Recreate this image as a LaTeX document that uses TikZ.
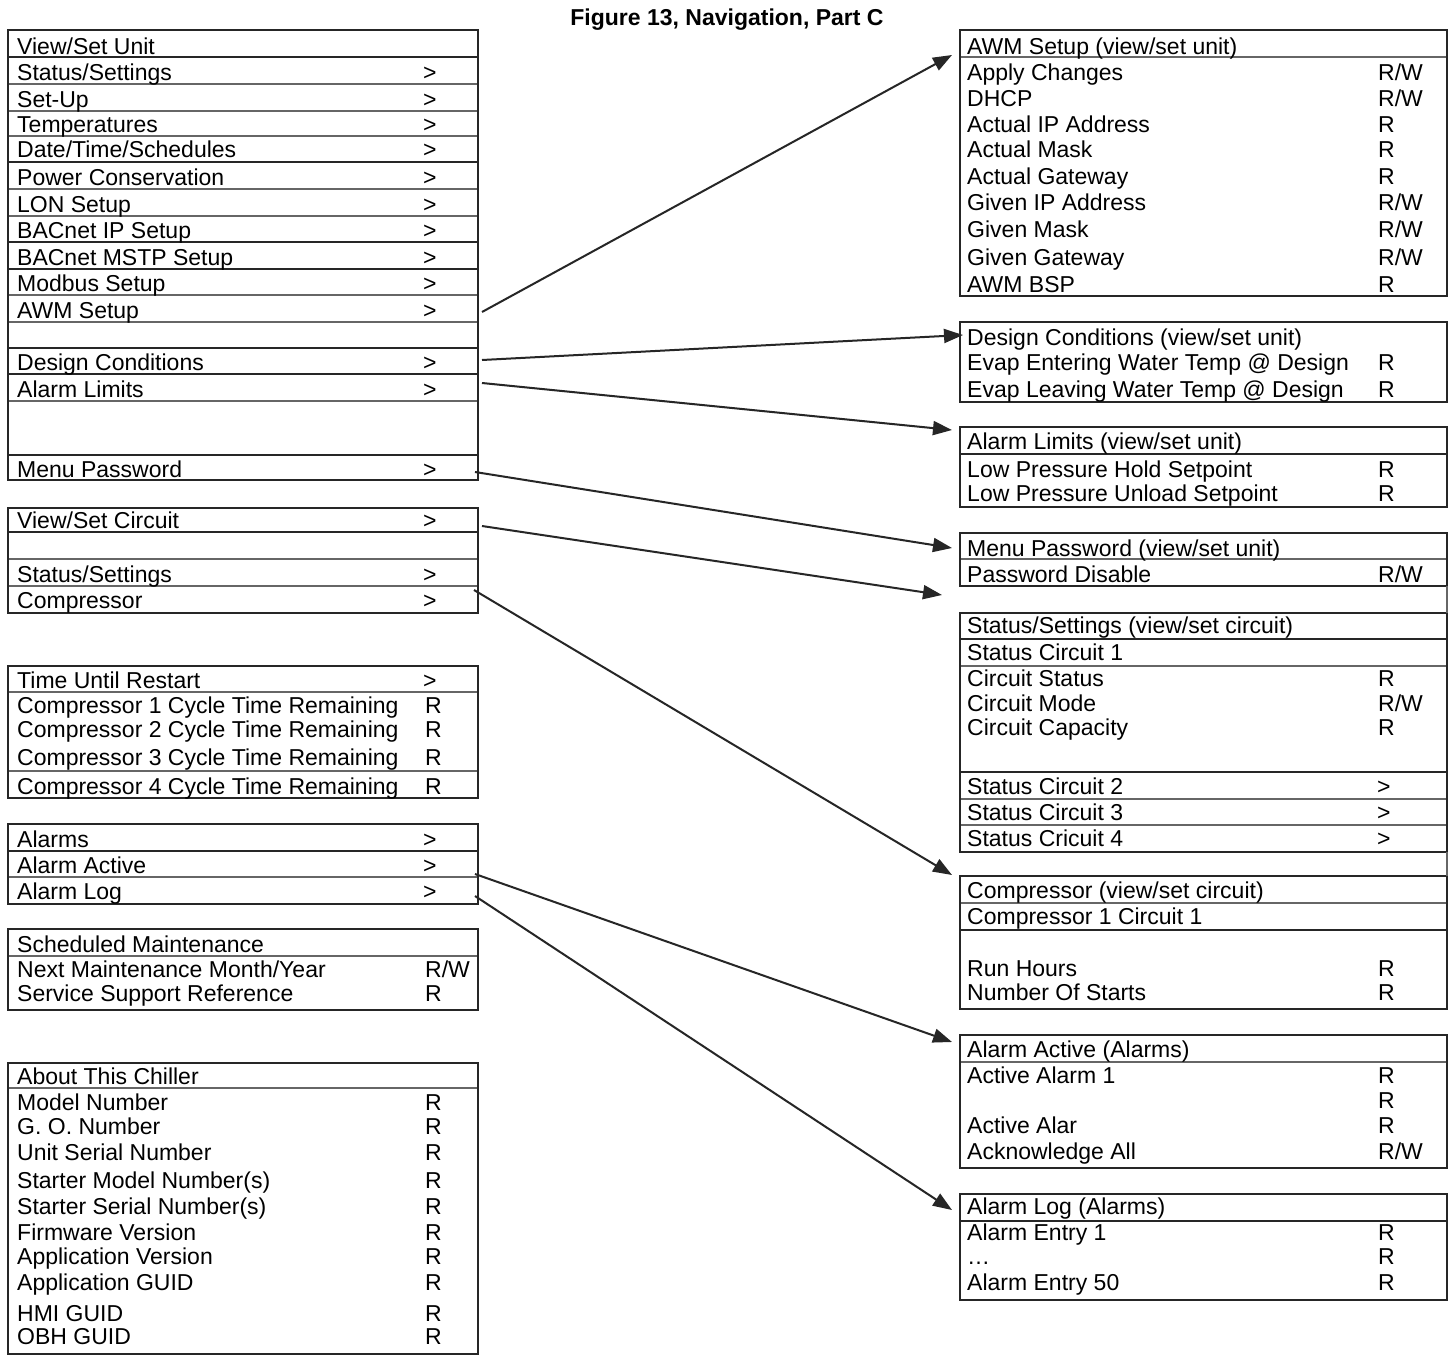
\documentclass[tikz,border=0pt]{standalone}
\usepackage{fontspec}
\setmainfont{Liberation Sans}
\usepackage{tikz}
\usetikzlibrary{arrows.meta}

\begin{document}
\begin{tikzpicture}[x=1pt, y=-1pt,
    txt/.style={anchor=base west, inner sep=0pt, font=\fontsize{23}{27}\selectfont},
    frame/.style={draw=black!85, line width=2pt},
    thickrule/.style={draw=black!85, line width=2.6pt},
    thinrule/.style={draw=black!60, line width=1.4pt},
    nav/.style={-{Triangle[length=19pt,width=14pt]}, line width=2pt, draw=black!85}]
			\path[use as bounding box, fill=white] (0,0) rectangle (1448,1357);
			\node[txt, anchor=base, font=\fontsize{23}{27}\selectfont\bfseries] (Title) at (727,25) {Figure 13, Navigation, Part C};
			% left column: rules
			\draw[thickrule] (8,57) -- (478,57);
			\draw[thinrule] (8,84) -- (478,84);
			\draw[thinrule] (8,111) -- (478,111);
			\draw[thinrule] (8,136) -- (478,136);
			\draw[thickrule] (8,162) -- (478,162);
			\draw[thinrule] (8,189) -- (478,189);
			\draw[thinrule] (8,216) -- (478,216);
			\draw[thickrule] (8,242) -- (478,242);
			\draw[thickrule] (8,269) -- (478,269);
			\draw[thinrule] (8,295) -- (478,295);
			\draw[thinrule] (8,322) -- (478,322);
			\draw[thickrule] (8,348) -- (478,348);
			\draw[thickrule] (8,374) -- (478,374);
			\draw[thinrule] (8,401) -- (478,401);
			\draw[thickrule] (8,455) -- (478,455);
			\draw[thickrule] (8,532) -- (478,532);
			\draw[thinrule] (8,559) -- (478,559);
			\draw[thinrule] (8,586) -- (478,586);
			\draw[thinrule] (8,692) -- (478,692);
			\draw[thinrule] (8,771) -- (478,771);
			\draw[thickrule] (8,851) -- (478,851);
			\draw[thinrule] (8,877) -- (478,877);
			\draw[thinrule] (8,956) -- (478,956);
			\draw[thinrule] (8,1088) -- (478,1088);
			\draw[frame] (8,30) rectangle (478,480);
			\draw[frame] (8,508) rectangle (478,613);
			\draw[frame] (8,666) rectangle (478,798);
			\draw[frame] (8,824) rectangle (478,904);
			\draw[frame] (8,929) rectangle (478,1010);
			\draw[frame] (8,1063) rectangle (478,1354);
			% right column: rules
			\draw[thinrule] (960,57) -- (1447,57);
			\draw[thickrule] (960,454) -- (1447,454);
			\draw[thinrule] (960,559) -- (1447,559);
			\draw[thickrule] (960,639) -- (1447,639);
			\draw[thinrule] (960,666) -- (1447,666);
			\draw[thickrule] (960,772) -- (1447,772);
			\draw[thinrule] (960,799) -- (1447,799);
			\draw[thinrule] (960,825) -- (1447,825);
			\draw[thinrule] (960,903) -- (1447,903);
			\draw[thickrule] (960,930) -- (1447,930);
			\draw[thinrule] (960,1062) -- (1447,1062);
			\draw[thickrule] (960,1221) -- (1447,1221);
			\draw[frame] (960,30) rectangle (1447,296);
			\draw[frame] (960,322) rectangle (1447,402);
			\draw[frame] (960,427) rectangle (1447,507);
			\draw[frame] (960,533) rectangle (1447,586);
			\draw[frame] (960,613) rectangle (1447,852);
			\draw[frame] (960,876) rectangle (1447,1009);
			\draw[frame] (960,1035) rectangle (1447,1168);
			\draw[frame] (960,1194) rectangle (1447,1300);
			\draw[thinrule] (1447,586) -- (1447,613);
			\draw[thinrule] (1447,852) -- (1447,876);
			% view/set unit
			\node[txt] (ViewSetUnit) at (17,54) {View/Set Unit};
			\node[txt] (UnitStatus) at (17,80) {Status/Settings};
			\node[txt] (UnitStatusGo) at (423,80) {>};
			\node[txt] (SetUp) at (17,107) {Set-Up};
			\node[txt] (SetUpGo) at (423,107) {>};
			\node[txt] (Temperatures) at (17,132) {Temperatures};
			\node[txt] (TemperaturesGo) at (423,132) {>};
			\node[txt] (Schedules) at (17,157) {Date/Time/Schedules};
			\node[txt] (SchedulesGo) at (423,157) {>};
			\node[txt] (PowerCons) at (17,185) {Power Conservation};
			\node[txt] (PowerConsGo) at (423,185) {>};
			\node[txt] (LON) at (17,212) {LON Setup};
			\node[txt] (LONGo) at (423,212) {>};
			\node[txt] (BACnetIP) at (17,238) {BACnet IP Setup};
			\node[txt] (BACnetIPGo) at (423,238) {>};
			\node[txt] (BACnetMSTP) at (17,265) {BACnet MSTP Setup};
			\node[txt] (BACnetMSTPGo) at (423,265) {>};
			\node[txt] (Modbus) at (17,291) {Modbus Setup};
			\node[txt] (ModbusGo) at (423,291) {>};
			\node[txt] (AWMSetup) at (17,318) {AWM Setup};
			\node[txt] (AWMSetupGo) at (423,318) {>};
			\node[txt] (Design) at (17,370) {Design Conditions};
			\node[txt] (DesignGo) at (423,370) {>};
			\node[txt] (AlarmLimits) at (17,397) {Alarm Limits};
			\node[txt] (AlarmLimitsGo) at (423,397) {>};
			\node[txt] (MenuPassword) at (17,477) {Menu Password};
			\node[txt] (MenuPasswordGo) at (423,477) {>};
			% view/set circuit
			\node[txt] (ViewSetCircuit) at (17,528) {View/Set Circuit};
			\node[txt] (ViewSetCircuitGo) at (423,528) {>};
			\node[txt] (CircuitStatus) at (17,582) {Status/Settings};
			\node[txt] (CircuitStatusGo) at (423,582) {>};
			\node[txt] (Compressor) at (17,608) {Compressor};
			\node[txt] (CompressorGo) at (423,608) {>};
			% restart
			\node[txt] (Restart) at (17,688) {Time Until Restart};
			\node[txt] (RestartGo) at (423,688) {>};
			\node[txt] (CycleA) at (17,713) {Compressor 1 Cycle Time Remaining};
			\node[txt] (CycleAR) at (425,713) {R};
			\node[txt] (CycleB) at (17,737) {Compressor 2 Cycle Time Remaining};
			\node[txt] (CycleBR) at (425,737) {R};
			\node[txt] (CycleC) at (17,765) {Compressor 3 Cycle Time Remaining};
			\node[txt] (CycleCR) at (425,765) {R};
			\node[txt] (CycleD) at (17,794) {Compressor 4 Cycle Time Remaining};
			\node[txt] (CycleDR) at (425,794) {R};
			% alarms
			\node[txt] (Alarms) at (17,847) {Alarms};
			\node[txt] (AlarmsGo) at (423,847) {>};
			\node[txt] (AlarmActive) at (17,873) {Alarm Active};
			\node[txt] (AlarmActiveGo) at (423,873) {>};
			\node[txt] (AlarmLog) at (17,899) {Alarm Log};
			\node[txt] (AlarmLogGo) at (423,899) {>};
			% maintenance
			\node[txt] (Maintenance) at (17,952) {Scheduled Maintenance};
			\node[txt] (NextMaint) at (17,977) {Next Maintenance Month/Year};
			\node[txt] (NextMaintRW) at (425,977) {R/W};
			\node[txt] (Service) at (17,1001) {Service Support Reference};
			\node[txt] (ServiceR) at (425,1001) {R};
			% about
			\node[txt] (About) at (17,1084) {About This Chiller};
			\node[txt] (ModelNo) at (17,1110) {Model Number};
			\node[txt] (ModelNoR) at (425,1110) {R};
			\node[txt] (GONo) at (17,1134) {G. O. Number};
			\node[txt] (GONoR) at (425,1134) {R};
			\node[txt] (UnitSerial) at (17,1160) {Unit Serial Number};
			\node[txt] (UnitSerialR) at (425,1160) {R};
			\node[txt] (StarterModel) at (17,1188) {Starter Model Number(s)};
			\node[txt] (StarterModelR) at (425,1188) {R};
			\node[txt] (StarterSerial) at (17,1214) {Starter Serial Number(s)};
			\node[txt] (StarterSerialR) at (425,1214) {R};
			\node[txt] (Firmware) at (17,1240) {Firmware Version};
			\node[txt] (FirmwareR) at (425,1240) {R};
			\node[txt] (AppVersion) at (17,1264) {Application Version};
			\node[txt] (AppVersionR) at (425,1264) {R};
			\node[txt] (AppGUID) at (17,1290) {Application GUID};
			\node[txt] (AppGUIDR) at (425,1290) {R};
			\node[txt] (HMIGUID) at (17,1321) {HMI GUID};
			\node[txt] (HMIGUIDR) at (425,1321) {R};
			\node[txt] (OBHGUID) at (17,1344) {OBH GUID};
			\node[txt] (OBHGUIDR) at (425,1344) {R};
			% AWM setup
			\node[txt] (AWMHead) at (967,54) {AWM Setup (view/set unit)};
			\node[txt] (ApplyChanges) at (967,80) {Apply Changes};
			\node[txt] (ApplyChangesRW) at (1378,80) {R/W};
			\node[txt] (DHCP) at (967,106) {DHCP};
			\node[txt] (DHCPRW) at (1378,106) {R/W};
			\node[txt] (ActualIP) at (967,132) {Actual IP Address};
			\node[txt] (ActualIPR) at (1378,132) {R};
			\node[txt] (ActualMask) at (967,157) {Actual Mask};
			\node[txt] (ActualMaskR) at (1378,157) {R};
			\node[txt] (ActualGateway) at (967,184) {Actual Gateway};
			\node[txt] (ActualGatewayR) at (1378,184) {R};
			\node[txt] (GivenIP) at (967,210) {Given IP Address};
			\node[txt] (GivenIPRW) at (1378,210) {R/W};
			\node[txt] (GivenMask) at (967,237) {Given Mask};
			\node[txt] (GivenMaskRW) at (1378,237) {R/W};
			\node[txt] (GivenGateway) at (967,265) {Given Gateway};
			\node[txt] (GivenGatewayRW) at (1378,265) {R/W};
			\node[txt] (AWMBSP) at (967,292) {AWM BSP};
			\node[txt] (AWMBSPR) at (1378,292) {R};
			% design conditions
			\node[txt] (DesignHead) at (967,345) {Design Conditions (view/set unit)};
			\node[txt] (EvapEnter) at (967,370) {Evap Entering Water Temp @ Design};
			\node[txt] (EvapEnterR) at (1378,370) {R};
			\node[txt] (EvapLeave) at (967,397) {Evap Leaving Water Temp @ Design};
			\node[txt] (EvapLeaveR) at (1378,397) {R};
			% alarm limits
			\node[txt] (AlarmLimitsHead) at (967,449) {Alarm Limits (view/set unit)};
			\node[txt] (LPHold) at (967,477) {Low Pressure Hold Setpoint};
			\node[txt] (LPHoldR) at (1378,477) {R};
			\node[txt] (LPUnload) at (967,501) {Low Pressure Unload Setpoint};
			\node[txt] (LPUnloadR) at (1378,501) {R};
			% menu password
			\node[txt] (MenuPasswordHead) at (967,556) {Menu Password (view/set unit)};
			\node[txt] (PwDisable) at (967,582) {Password Disable};
			\node[txt] (PwDisableRW) at (1378,582) {R/W};
			% status/settings
			\node[txt] (CircuitStatusHead) at (967,633) {Status/Settings (view/set circuit)};
			\node[txt] (CircuitOne) at (967,660) {Status Circuit 1};
			\node[txt] (CircStatus) at (967,686) {Circuit Status};
			\node[txt] (CircStatusR) at (1378,686) {R};
			\node[txt] (CircMode) at (967,711) {Circuit Mode};
			\node[txt] (CircModeRW) at (1378,711) {R/W};
			\node[txt] (CircCapacity) at (967,735) {Circuit Capacity};
			\node[txt] (CircCapacityR) at (1378,735) {R};
			\node[txt] (CircuitTwo) at (967,794) {Status Circuit 2};
			\node[txt] (CircuitTwoGo) at (1377,794) {>};
			\node[txt] (CircuitThree) at (967,820) {Status Circuit 3};
			\node[txt] (CircuitThreeGo) at (1377,820) {>};
			\node[txt] (CircuitFour) at (967,846) {Status Cricuit 4};
			\node[txt] (CircuitFourGo) at (1377,846) {>};
			% compressor
			\node[txt] (CompressorHead) at (967,898) {Compressor (view/set circuit)};
			\node[txt] (CompOne) at (967,924) {Compressor 1 Circuit 1};
			\node[txt] (RunHours) at (967,976) {Run Hours};
			\node[txt] (RunHoursR) at (1378,976) {R};
			\node[txt] (Starts) at (967,1000) {Number Of Starts};
			\node[txt] (StartsR) at (1378,1000) {R};
			% alarm active
			\node[txt] (AlarmActiveHead) at (967,1057) {Alarm Active (Alarms)};
			\node[txt] (ActiveOne) at (967,1083) {Active Alarm 1};
			\node[txt] (ActiveOneR) at (1378,1083) {R};
			\node[txt] (ActiveMidR) at (1378,1108) {R};
			\node[txt] (ActiveAlar) at (967,1133) {Active Alar};
			\node[txt] (ActiveAlarR) at (1378,1133) {R};
			\node[txt] (AckAll) at (967,1159) {Acknowledge All};
			\node[txt] (AckAllRW) at (1378,1159) {R/W};
			% alarm log
			\node[txt] (AlarmLogHead) at (967,1214) {Alarm Log (Alarms)};
			\node[txt] (EntryOne) at (967,1240) {Alarm Entry 1};
			\node[txt] (EntryOneR) at (1378,1240) {R};
			\node[txt] (EntryDots) at (967,1264) {…};
			\node[txt] (EntryDotsR) at (1378,1264) {R};
			\node[txt] (EntryFifty) at (967,1290) {Alarm Entry 50};
			\node[txt] (EntryFiftyR) at (1378,1290) {R};
			% navigation arrows
			\draw[nav] ([xshift=59pt,yshift=6pt]AWMSetupGo.base west) -- ([xshift=-15pt,yshift=-1pt]AWMHead.base west);
			\draw[nav] ([xshift=59pt,yshift=10pt]DesignGo.base west) -- ([xshift=-4pt,yshift=10pt]DesignHead.base west);
			\draw[nav] ([xshift=59pt,yshift=14pt]AlarmLimitsGo.base west) -- ([xshift=-15pt,yshift=19pt]AlarmLimitsHead.base west);
			\draw[nav] ([xshift=52pt,yshift=5pt]MenuPasswordGo.base west) -- ([xshift=-15pt,yshift=8pt]MenuPasswordHead.base west);
			\draw[nav] ([xshift=59pt,yshift=2pt]ViewSetCircuitGo.base west) -- ([xshift=-25pt,yshift=38pt]CircuitStatusHead.base west);
			\draw[nav] ([xshift=51pt,yshift=18pt]CompressorGo.base west) -- ([xshift=-15pt,yshift=23pt]CompressorHead.base west);
			\draw[nav] ([xshift=52pt,yshift=-1pt]AlarmActiveGo.base west) -- ([xshift=-15pt,yshift=15pt]AlarmActiveHead.base west);
			\draw[nav] ([xshift=52pt,yshift=3pt]AlarmLogGo.base west) -- ([xshift=-15pt,yshift=4pt]AlarmLogHead.base west);
		\end{tikzpicture}
\end{document}
